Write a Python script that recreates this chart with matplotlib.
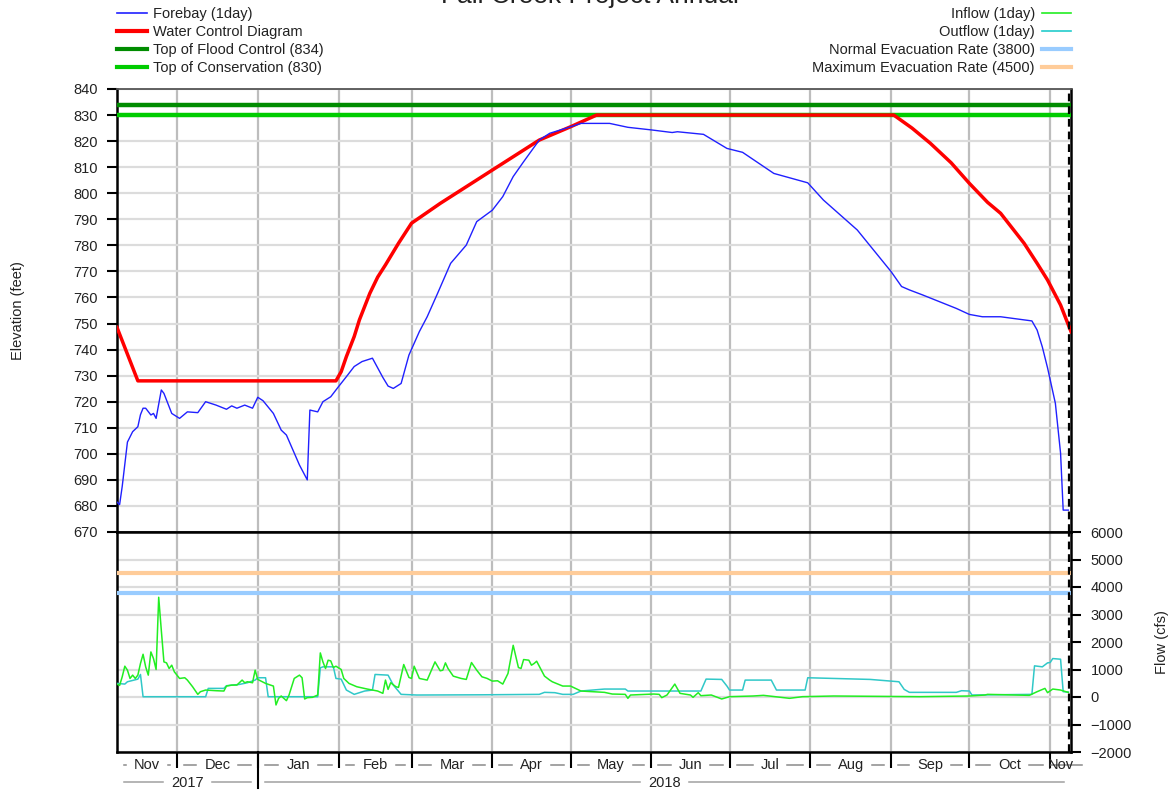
import matplotlib
matplotlib.use("Agg")
import matplotlib.pyplot as plt
from matplotlib.lines import Line2D
import matplotlib.dates as mdates
import pandas as pd

plt.rcParams['font.family'] = ['Liberation Sans', 'DejaVu Sans']
plt.rcParams['font.size'] = 10.5

# ---------------- data ----------------
TITLE = "Fall Creek Project Annual"
START = "2017-11-08"
END = "2018-11-09"
TODAY = "2018-11-08 05:00"

# days since START
forebay_day = [0, 1, 2, 4, 6, 8, 9, 10, 11, 13, 14, 15, 17, 18, 21, 24, 27, 31, 34, 38,
               42, 44, 46, 49, 52, 54, 56, 60, 63, 65, 70, 73, 74, 77, 79, 82, 85, 88, 91, 94,
               98, 102, 104, 106, 109, 112, 116, 119, 123, 128, 134, 138, 144, 148, 152, 156, 162, 166, 174, 178,
               189, 196, 205, 213, 215, 225, 234, 240, 252, 265, 271, 284, 297, 301, 304, 309, 322, 327, 332, 339,
               351, 353, 355, 357, 360, 362, 363, 365]
forebay_elev = [681.5, 680.5, 687.5, 704.5, 708.5, 710.4, 715.0, 717.5, 717.5, 714.9,
                715.5, 713.6, 724.5, 723.2, 715.5, 713.6, 716.1, 715.8, 720.0, 718.7,
                717.1, 718.4, 717.5, 718.7, 717.5, 721.7, 720.4, 715.5, 709.1, 707.2,
                695.7, 690.0, 716.8, 716.1, 720.0, 721.9, 725.8, 729.6, 733.5, 735.4,
                736.7, 729.3, 726.0, 725.1, 727.0, 737.9, 746.9, 752.6, 761.6, 773.1,
                780.1, 789.1, 793.5, 798.7, 806.4, 812.1, 820.4, 823.0, 825.5, 826.8,
                826.8, 825.3, 824.3, 823.3, 823.6, 822.6, 817.2, 815.7, 807.6, 804.0,
                797.4, 785.9, 769.9, 764.2, 762.9, 761.0, 755.8, 753.5, 752.6, 752.6,
                751.0, 747.5, 741.0, 733.0, 719.4, 700.2, 678.4, 678.4]

wcd_day = [0, 8, 84, 86, 88, 91, 93, 97, 100, 103, 108, 113, 124, 144, 162, 174, 184,
           298, 305, 312, 320, 327, 334, 339, 348, 353, 357, 362, 366]
wcd_elev = [748.5, 728, 728, 731.5, 737.3, 745, 751.4, 761.6, 767.8, 772.5, 780.8, 788.5,
            796.1, 808.9, 820.4, 825.5, 830,
            830, 825.0, 819.2, 811.7, 803.8, 796.5, 792.3, 780.8, 773.1, 766.7, 757.1, 746.9]

inflow_day = [0, 1, 2, 3, 4, 5, 6, 7, 8, 9,
              10, 11, 12, 13, 14, 15, 16, 17, 18, 19,
              20, 21, 22, 24, 26, 27, 29, 31, 32, 34,
              38, 41, 42, 44, 46, 48, 49, 50, 52, 53,
              54, 57, 60, 61, 62, 63, 65, 66, 68, 70,
              71, 72, 73, 75, 77, 78, 79, 80, 81, 82,
              83, 84, 86, 87, 89, 92, 96, 100, 102, 103,
              104, 105, 107, 108, 110, 112, 113, 114, 116, 119,
              122, 124, 125, 126, 127, 129, 132, 134, 136, 138,
              140, 142, 144, 146, 148, 150, 152, 154, 155, 156,
              158, 159, 160, 161, 162, 164, 166, 167, 171, 174,
              178, 187, 190, 195, 196, 197, 206, 208, 209, 211,
              214, 216, 220, 221, 223, 224, 228, 232, 235, 244,
              248, 258, 263, 275, 294, 308, 327, 333, 334, 350,
              353, 356, 357, 359, 362, 364, 365]
inflow_cfs = [470, 420, 735, 1120, 976, 675, 795, 675, 795, 1217,
              1554, 1097, 795, 1639, 1398, 1000, 3627, 2422, 1277, 1241,
              1036, 1157, 916, 675, 700, 615, 373, 96, 193, 253,
              229, 217, 398, 434, 434, 615, 518, 554, 518, 976,
              639, 494, 398, -289, -48, 36, -133, 72, 675, 795,
              700, -72, -24, -12, 72, 1603, 1277, 1036, 1338, 1313,
              1072, 1120, 1000, 675, 494, 373, 289, 217, 133, 615,
              277, 518, 373, 349, 1181, 711, 675, 1120, 675, 615,
              1277, 952, 976, 1241, 1036, 759, 675, 639, 1253, 976,
              735, 675, 578, 590, 470, 855, 1880, 1072, 1036, 1362,
              1338, 1157, 1217, 1301, 1120, 760, 615, 554, 398, 398,
              217, 169, 108, 96, -48, 72, 108, 96, -24, 72,
              470, 133, 72, -12, 157, 48, 72, -72, 12, 36,
              60, -48, 12, 36, 24, 12, 36, 72, 96, 60,
              193, 313, 157, 289, 253, 193, 168]

outflow_day = [0, 3, 4, 8, 9, 10, 34, 35, 41, 42,
               47, 50, 53, 54, 57, 58, 77, 78, 79, 83,
               84, 86, 88, 91, 95, 98, 99, 104, 106, 109,
               115, 140, 162, 164, 168, 171, 175, 178, 187, 195,
               196, 224, 226, 232, 234, 235, 240, 241, 251, 253,
               264, 265, 289, 300, 302, 304, 322, 324, 327, 328,
               351, 352, 355, 357, 358, 359, 362, 363, 365]
outflow_cfs = [494, 470, 554, 650, 820, 10, 10, 313, 313, 410,
               458, 518, 615, 700, 700, 10, 10, 1060, 1097, 1097,
               675, 650, 253, 96, 217, 253, 820, 795, 434, 96,
               72, 80, 96, 169, 157, 96, 96, 217, 289, 289,
               217, 217, 651, 639, 398, 253, 253, 615, 615, 253,
               253, 700, 639, 554, 277, 169, 169, 229, 217, 72,
               96, 1133, 1097, 1241, 1253, 1398, 1374, 193, 180]

flood_control_top = 834
conservation_top = 830
normal_evac = 3800
max_evac = 4500

elev_ticks = list(range(670, 841, 10))
flow_ticks = list(range(-2000, 6001, 1000))

month_starts = ["2017-12-01", "2018-01-01", "2018-02-01", "2018-03-01", "2018-04-01",
                "2018-05-01", "2018-06-01", "2018-07-01", "2018-08-01", "2018-09-01",
                "2018-10-01", "2018-11-01"]
month_labels = ["Nov", "Dec", "Jan", "Feb", "Mar", "Apr", "May", "Jun", "Jul", "Aug",
                "Sep", "Oct", "Nov"]
year_starts = ["2018-01-01"]
year_labels = ["2017", "2018"]

left_legend = [("Forebay (1day)", "#2020ff", 1.2),
               ("Water Control Diagram", "#ff0000", 3.0),
               ("Top of Flood Control (834)", "#008c00", 3.0),
               ("Top of Conservation (830)", "#00cc00", 3.0)]
right_legend = [("Inflow (1day)", "#22ee22", 1.2),
                ("Outflow (1day)", "#22cccc", 1.2),
                ("Normal Evacuation Rate (3800)", "#99ccff", 3.0),
                ("Maximum Evacuation Rate (4500)", "#ffcc99", 3.0)]

# ---------------- helpers ----------------
def num(s):
    return mdates.date2num(pd.Timestamp(s).to_pydatetime())

def to_num(days):
    dti = pd.Timestamp(START) + pd.to_timedelta(days, unit="D")
    return mdates.date2num(dti.to_pydatetime())

TXT = "#222222"
GRID_H = "#dcdcdc"
GRID_V = "#bdbdbd"

W, H = 1173, 791
fig = plt.figure(figsize=(W / 100, H / 100), dpi=100)
x0p, x1p = 117, 1071
y_top, y_mid, y_bot = 89, 532, 752
ax1 = fig.add_axes([x0p / W, 1 - y_mid / H, (x1p - x0p) / W, (y_mid - y_top) / H])
ax2 = fig.add_axes([x0p / W, 1 - y_bot / H, (x1p - x0p) / W, (y_bot - y_mid) / H])
ax2_hpx = y_bot - y_mid

t0, t1 = num(START), num(END)
mnums = [num(m) for m in month_starts]

for ax in (ax1, ax2):
    ax.set_xlim(t0, t1)
    ax.set_xticks(mnums)
    ax.set_xticklabels([])
    ax.set_axisbelow(True)
    ax.xaxis.grid(True, color=GRID_V, lw=1.6)
    ax.yaxis.grid(True, color=GRID_H, lw=1.6)
    for sp in ax.spines.values():
        sp.set_color("black")
        sp.set_linewidth(1.8)
ax1.spines["top"].set_color("#555555")
ax1.spines["top"].set_linewidth(1.3)
ax1.tick_params(axis="x", length=0)
ax2.tick_params(axis="x", length=11.5, width=1.5, color="black", direction="out")

# top panel
ax1.set_ylim(670, 840)
ax1.set_yticks(elev_ticks)
ax1.tick_params(axis="y", length=7.2, width=1.5, pad=6.5, labelsize=10.5, labelcolor=TXT)
ax1.axhline(flood_control_top, color="#008c00", lw=3.2, zorder=3)
ax1.axhline(conservation_top, color="#00cc00", lw=3.2, zorder=3)
ax1.plot(to_num(wcd_day), wcd_elev, color="#ff0000", lw=2.5, zorder=4, solid_joinstyle="round")
ax1.plot(to_num(forebay_day), forebay_elev, color="#2020ff", lw=1.0, zorder=5)

# bottom panel
ax2.set_ylim(-2000, 6000)
ax2.set_yticks(flow_ticks)
ax2.yaxis.tick_right()
ax2.tick_params(axis="y", length=7.5, width=1.5, pad=6.5, labelsize=10.5, labelcolor=TXT)
ax2.axhline(max_evac, color="#ffcc99", lw=3.0, zorder=3)
ax2.axhline(normal_evac, color="#99ccff", lw=3.0, zorder=3)
ax2.plot(to_num(outflow_day), outflow_cfs, color="#30c8c8", lw=1.1, zorder=4)
ax2.plot(to_num(inflow_day), inflow_cfs, color="#22ee22", lw=1.1, zorder=5)

tn = num(TODAY)
for ax in (ax1, ax2):
    ax.axvline(tn, color="black", lw=1.6, ls=(0, (3.5, 2.2)), zorder=6)

# ---------------- custom date axis ----------------
xt = ax2.get_xaxis_transform()
mbounds = [t0] + mnums + [t1]
ybounds = [t0] + [num(y) for y in year_starts] + [t1]

month_texts = []
for i, lab in enumerate(month_labels):
    a, b = mbounds[i], mbounds[i + 1]
    t = ax2.text((a + b) / 2, -17.3 / ax2_hpx, lab, transform=xt, ha="center",
                 va="baseline", fontsize=10.5, color=TXT, clip_on=False)
    month_texts.append((t, a, b))
year_texts = []
for i, lab in enumerate(year_labels):
    a, b = ybounds[i], ybounds[i + 1]
    t = ax2.text((a + b) / 2, -35.3 / ax2_hpx, lab, transform=xt, ha="center",
                 va="baseline", fontsize=10.5, color=TXT, clip_on=False)
    year_texts.append((t, a, b))

for y in year_starts:
    ax2.add_line(Line2D([num(y), num(y)], [0, -36 / ax2_hpx], transform=xt, color="black",
                        lw=1.5, clip_on=False))

fig.canvas.draw()
rend = fig.canvas.get_renderer()
inv = ax2.transData.inverted()

def dx(xd):
    return inv.transform((xd, 0))[0]

def disp(xv):
    return ax2.transData.transform((xv, 0))[0]

def dash_row(items, ypx, color, last_special=False):
    yy = -ypx / ax2_hpx
    for k, (t, a, b) in enumerate(items):
        bb = t.get_window_extent(rend)
        ad, bd = disp(a), disp(b)
        if last_special and k == len(items) - 1:
            ax2.add_line(Line2D([dx(ad + 1), dx(bd + 11)], [yy, yy], transform=xt, color=color,
                                lw=1.1, clip_on=False, zorder=1))
            continue
        segs = [(ad + 7, bb.x0 - 8), (bb.x1 + 8, bd - 7)]
        for s0, s1 in segs:
            if s1 - s0 < 1.5:
                s1 = s0 + 1.5
            ax2.add_line(Line2D([dx(s0), dx(s1)], [yy, yy], transform=xt, color=color,
                                lw=1.1, clip_on=False, zorder=1))

dash_row(month_texts, 12.5, "#8a8a8a", last_special=True)
dash_row(year_texts, 30.0, "#a0a0a0")

# ---------------- labels, title, legends ----------------
fig.text(18 / W, 1 - 310.5 / H, "Elevation (feet)", rotation=90, ha="center", va="center",
         fontsize=10.5, color=TXT)
fig.text(1162 / W, 1 - 642 / H, "Flow (cfs)", rotation=90, ha="center", va="center",
         fontsize=10.5, color=TXT)
fig.text(590 / W, 1 - 3 / H, TITLE, ha="center", va="baseline", fontsize=19, color=TXT)

rows = [13, 31, 49, 67]
for (lab, col, lw), ry in zip(left_legend, rows):
    fig.add_artist(Line2D([117 / W, 147 / W], [1 - ry / H, 1 - ry / H], transform=fig.transFigure,
                          color=col, lw=lw))
    fig.text(153 / W, 1 - (ry + 1) / H, lab, ha="left", va="center", fontsize=10.5, color=TXT)
for (lab, col, lw), ry in zip(right_legend, rows):
    fig.add_artist(Line2D([1042 / W, 1071 / W], [1 - ry / H, 1 - ry / H], transform=fig.transFigure,
                          color=col, lw=lw))
    fig.text(1035 / W, 1 - (ry + 1) / H, lab, ha="right", va="center", fontsize=10.5, color=TXT)

fig.savefig("out.png", dpi=100)
